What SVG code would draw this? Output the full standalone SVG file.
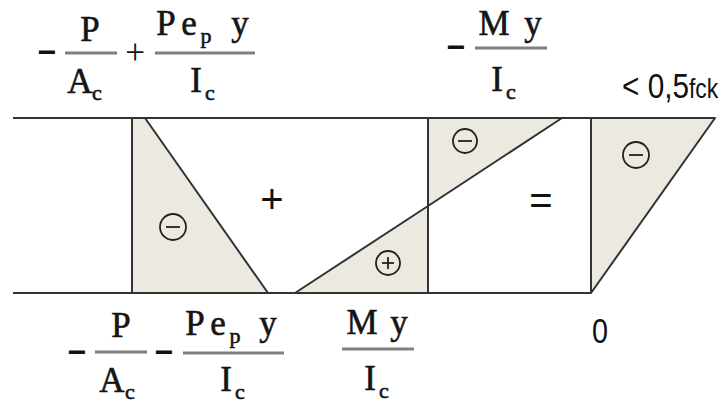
<svg xmlns="http://www.w3.org/2000/svg" width="725" height="405" viewBox="0 0 725 405">
<style>
.f{font-family:"Liberation Serif","Times New Roman",serif;font-size:35px;fill:#151515;stroke:#151515;stroke-width:0.6;text-anchor:middle}
.sub{font-size:22px}
.m{font-family:"Liberation Sans",Arial,sans-serif;font-weight:bold;font-size:32px;fill:#111;text-anchor:middle}
.s{font-family:"Liberation Sans",Arial,sans-serif;fill:#111}
.bar{stroke:#808080;stroke-width:3}
.edge{stroke:#333;stroke-width:2;fill:none}
.zone{fill:#ECEAE0;stroke:#333;stroke-width:2;stroke-linejoin:round}
.sign{fill:none;stroke:#222;stroke-width:1.8}
</style>
<rect width="725" height="405" fill="#fff"/>
<g id="stress-zones">
  <polygon class="zone" points="132,118 145,118 268,293 132,293"/>
  <polygon class="zone" points="295,293 428,206 428,293"/>
  <polygon class="zone" points="428,118 562,118 428,206"/>
  <polygon class="zone" points="591,118 715,118 591,293"/>
</g>
<g id="section-lines">
  <line class="edge" x1="13" y1="118" x2="715" y2="118"/>
  <line class="edge" x1="13" y1="293" x2="591" y2="293"/>
  <line class="edge" x1="428" y1="118" x2="428" y2="293"/>
  <line class="edge" x1="591" y1="118" x2="591" y2="293"/>
</g>
<g id="signs">
  <circle class="sign" cx="173" cy="227" r="13"/>
  <line class="sign" x1="166" y1="227" x2="180" y2="227" stroke-width="2.5"/>
  <circle class="sign" cx="388" cy="263" r="12"/>
  <line class="sign" x1="382" y1="263" x2="394" y2="263" stroke-width="2.5"/>
  <line class="sign" x1="388" y1="257" x2="388" y2="269" stroke-width="2.5"/>
  <circle class="sign" cx="465" cy="141" r="12"/>
  <line class="sign" x1="458" y1="141" x2="472" y2="141" stroke-width="2.5"/>
  <circle class="sign" cx="636" cy="155" r="13"/>
  <line class="sign" x1="629" y1="155" x2="643" y2="155" stroke-width="2.5"/>
  <text class="s" x="272" y="213" font-size="40" text-anchor="middle">+</text>
  <text class="s" x="541" y="214" font-size="40" text-anchor="middle">=</text>
</g>
<g id="top-left-formula">
  <text class="m" x="47" y="63">−</text>
  <line class="bar" x1="65" y1="53" x2="117" y2="53"/>
  <text class="f" x="90" y="41">P</text>
  <text class="f" x="80" y="93">A</text>
  <text class="f sub" x="97" y="100">c</text>
  <text class="f" x="135" y="64" style="stroke-width:0.1">+</text>
  <line class="bar" x1="155" y1="53" x2="255" y2="53"/>
  <text class="f" x="166" y="35">P</text>
  <text class="f" x="189" y="35">e</text>
  <text class="f sub" x="206" y="43">p</text>
  <text class="f" x="240" y="35">y</text>
  <text class="f" x="196" y="92">I</text>
  <text class="f sub" x="210" y="100">c</text>
</g>
<g id="top-right-formula">
  <text class="m" x="456" y="58">−</text>
  <line class="bar" x1="475" y1="48" x2="547" y2="48"/>
  <text class="f" x="494" y="35">M</text>
  <text class="f" x="533" y="35">y</text>
  <text class="f" x="497" y="91">I</text>
  <text class="f sub" x="511" y="99">c</text>
  <text class="s" x="0" y="0" font-size="35" transform="translate(622,98) scale(0.85,1)">&lt; 0,5<tspan font-size="27">fck</tspan></text>
</g>
<g id="bottom-formula">
  <text class="m" x="77" y="363">−</text>
  <line class="bar" x1="95" y1="352" x2="147" y2="352"/>
  <text class="f" x="121" y="337">P</text>
  <text class="f" x="112" y="392">A</text>
  <text class="f sub" x="130" y="399">c</text>
  <text class="m" x="164" y="363">−</text>
  <line class="bar" x1="183" y1="353" x2="284" y2="353"/>
  <text class="f" x="195" y="335">P</text>
  <text class="f" x="218" y="335">e</text>
  <text class="f sub" x="235" y="343">p</text>
  <text class="f" x="268" y="335">y</text>
  <text class="f" x="226" y="391">I</text>
  <text class="f sub" x="240" y="399">c</text>
  <line class="bar" x1="342" y1="349" x2="414" y2="349"/>
  <text class="f" x="362" y="334">M</text>
  <text class="f" x="399" y="334">y</text>
  <text class="f" x="370" y="390">I</text>
  <text class="f sub" x="384" y="398">c</text>
  <text class="s" x="0" y="0" font-size="36" text-anchor="middle" transform="translate(600,343) scale(0.8,1)">0</text>
</g>
</svg>
